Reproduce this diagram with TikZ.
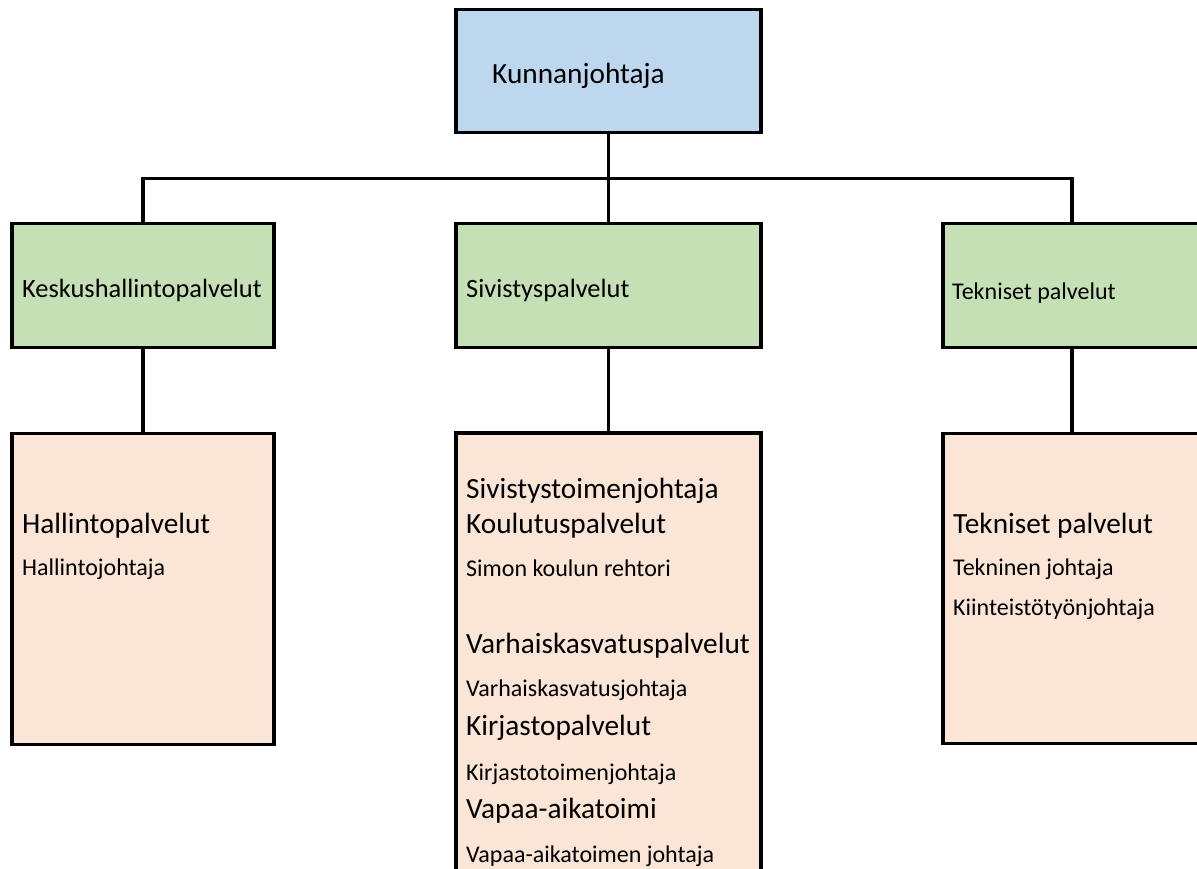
\documentclass[tikz,border=0pt]{standalone}
\usepackage{fontspec}
\setmainfont{Carlito}
\definecolor{topblue}{HTML}{BDD7EE}
\definecolor{midgreen}{HTML}{C5E0B4}
\definecolor{lowpeach}{HTML}{FBE5D6}
\begin{document}
\begin{tikzpicture}[x=1pt,y=-1pt,
  box/.style={draw=black,line width=3.5pt,rectangle,inner sep=0pt,outer sep=0pt,anchor=center},
  conn/.style={draw=black,line width=3.5pt},
  big/.style={anchor=base west,inner sep=0pt,font=\fontsize{29.3}{34}\selectfont},
  mid/.style={anchor=base west,inner sep=0pt,font=\fontsize{26.4}{31}\selectfont},
  small/.style={anchor=base west,inner sep=0pt,font=\fontsize{24}{28}\selectfont}]
\useasboundingbox (0,0) rectangle (1197,868);
\clip (0,0) rectangle (1197,868);
% boxes (centres)
\node[box,fill=topblue,minimum width=305pt,minimum height=123pt] (top) at (608.5,71) {};
\node[box,fill=midgreen,minimum width=262pt,minimum height=124pt] (gl) at (143,285.5) {};
\node[box,fill=midgreen,minimum width=305pt,minimum height=124pt] (gm) at (608.5,285.5) {};
\node[box,fill=midgreen,minimum width=258pt,minimum height=124pt] (gr) at (1072,285.5) {};
\node[box,fill=lowpeach,minimum width=262pt,minimum height=311pt] (ll) at (143,589) {};
\node[box,fill=lowpeach,minimum width=305pt,minimum height=470pt] (lm) at (608.5,668) {};
\node[box,fill=lowpeach,minimum width=258pt,minimum height=310pt] (lr) at (1072,588.5) {};
% bus
\coordinate (bus) at (608.5,178.5);
\draw[conn] (top.south) -- (gm.north);
\draw[conn] (bus) -| (gl.north);
\draw[conn] (bus) -| (gr.north);
\draw[conn] (gl.south) -- (ll.north);
\draw[conn] (gm.south) -- (lm.north);
\draw[conn] (gr.south) -- (lr.north);
% texts
\node[big] (t0) at (492,83) {Kunnanjohtaja};
\node[mid] (t1) at (22,297) {Keskushallintopalvelut};
\node[mid] (t2) at (466,297) {Sivistyspalvelut};
\node[small] (t3) at (952,299) {Tekniset palvelut};
\node[big] (l1) at (22,533) {Hallintopalvelut};
\node[small] (l2) at (22,575) {Hallintojohtaja};
\node[big] (m1) at (466,498) {Sivistystoimenjohtaja};
\node[big] (m2) at (466,533) {Koulutuspalvelut};
\node[small] (m3) at (466,576) {Simon koulun rehtori};
\node[big] (m4) at (466,653) {Varhaiskasvatuspalvelut};
\node[small] (m5) at (466,696) {Varhaiskasvatusjohtaja};
\node[big] (m6) at (466,735) {Kirjastopalvelut};
\node[small] (m7) at (466,780) {Kirjastotoimenjohtaja};
\node[big] (m8) at (466,818) {Vapaa-aikatoimi};
\node[small] (m9) at (466,862) {Vapaa-aikatoimen johtaja};
\node[big] (r1) at (953,533) {Tekniset palvelut};
\node[small] (r2) at (953,575) {Tekninen johtaja};
\node[small] (r3) at (953,615) {Kiinteistötyönjohtaja};
\end{tikzpicture}
\end{document}
